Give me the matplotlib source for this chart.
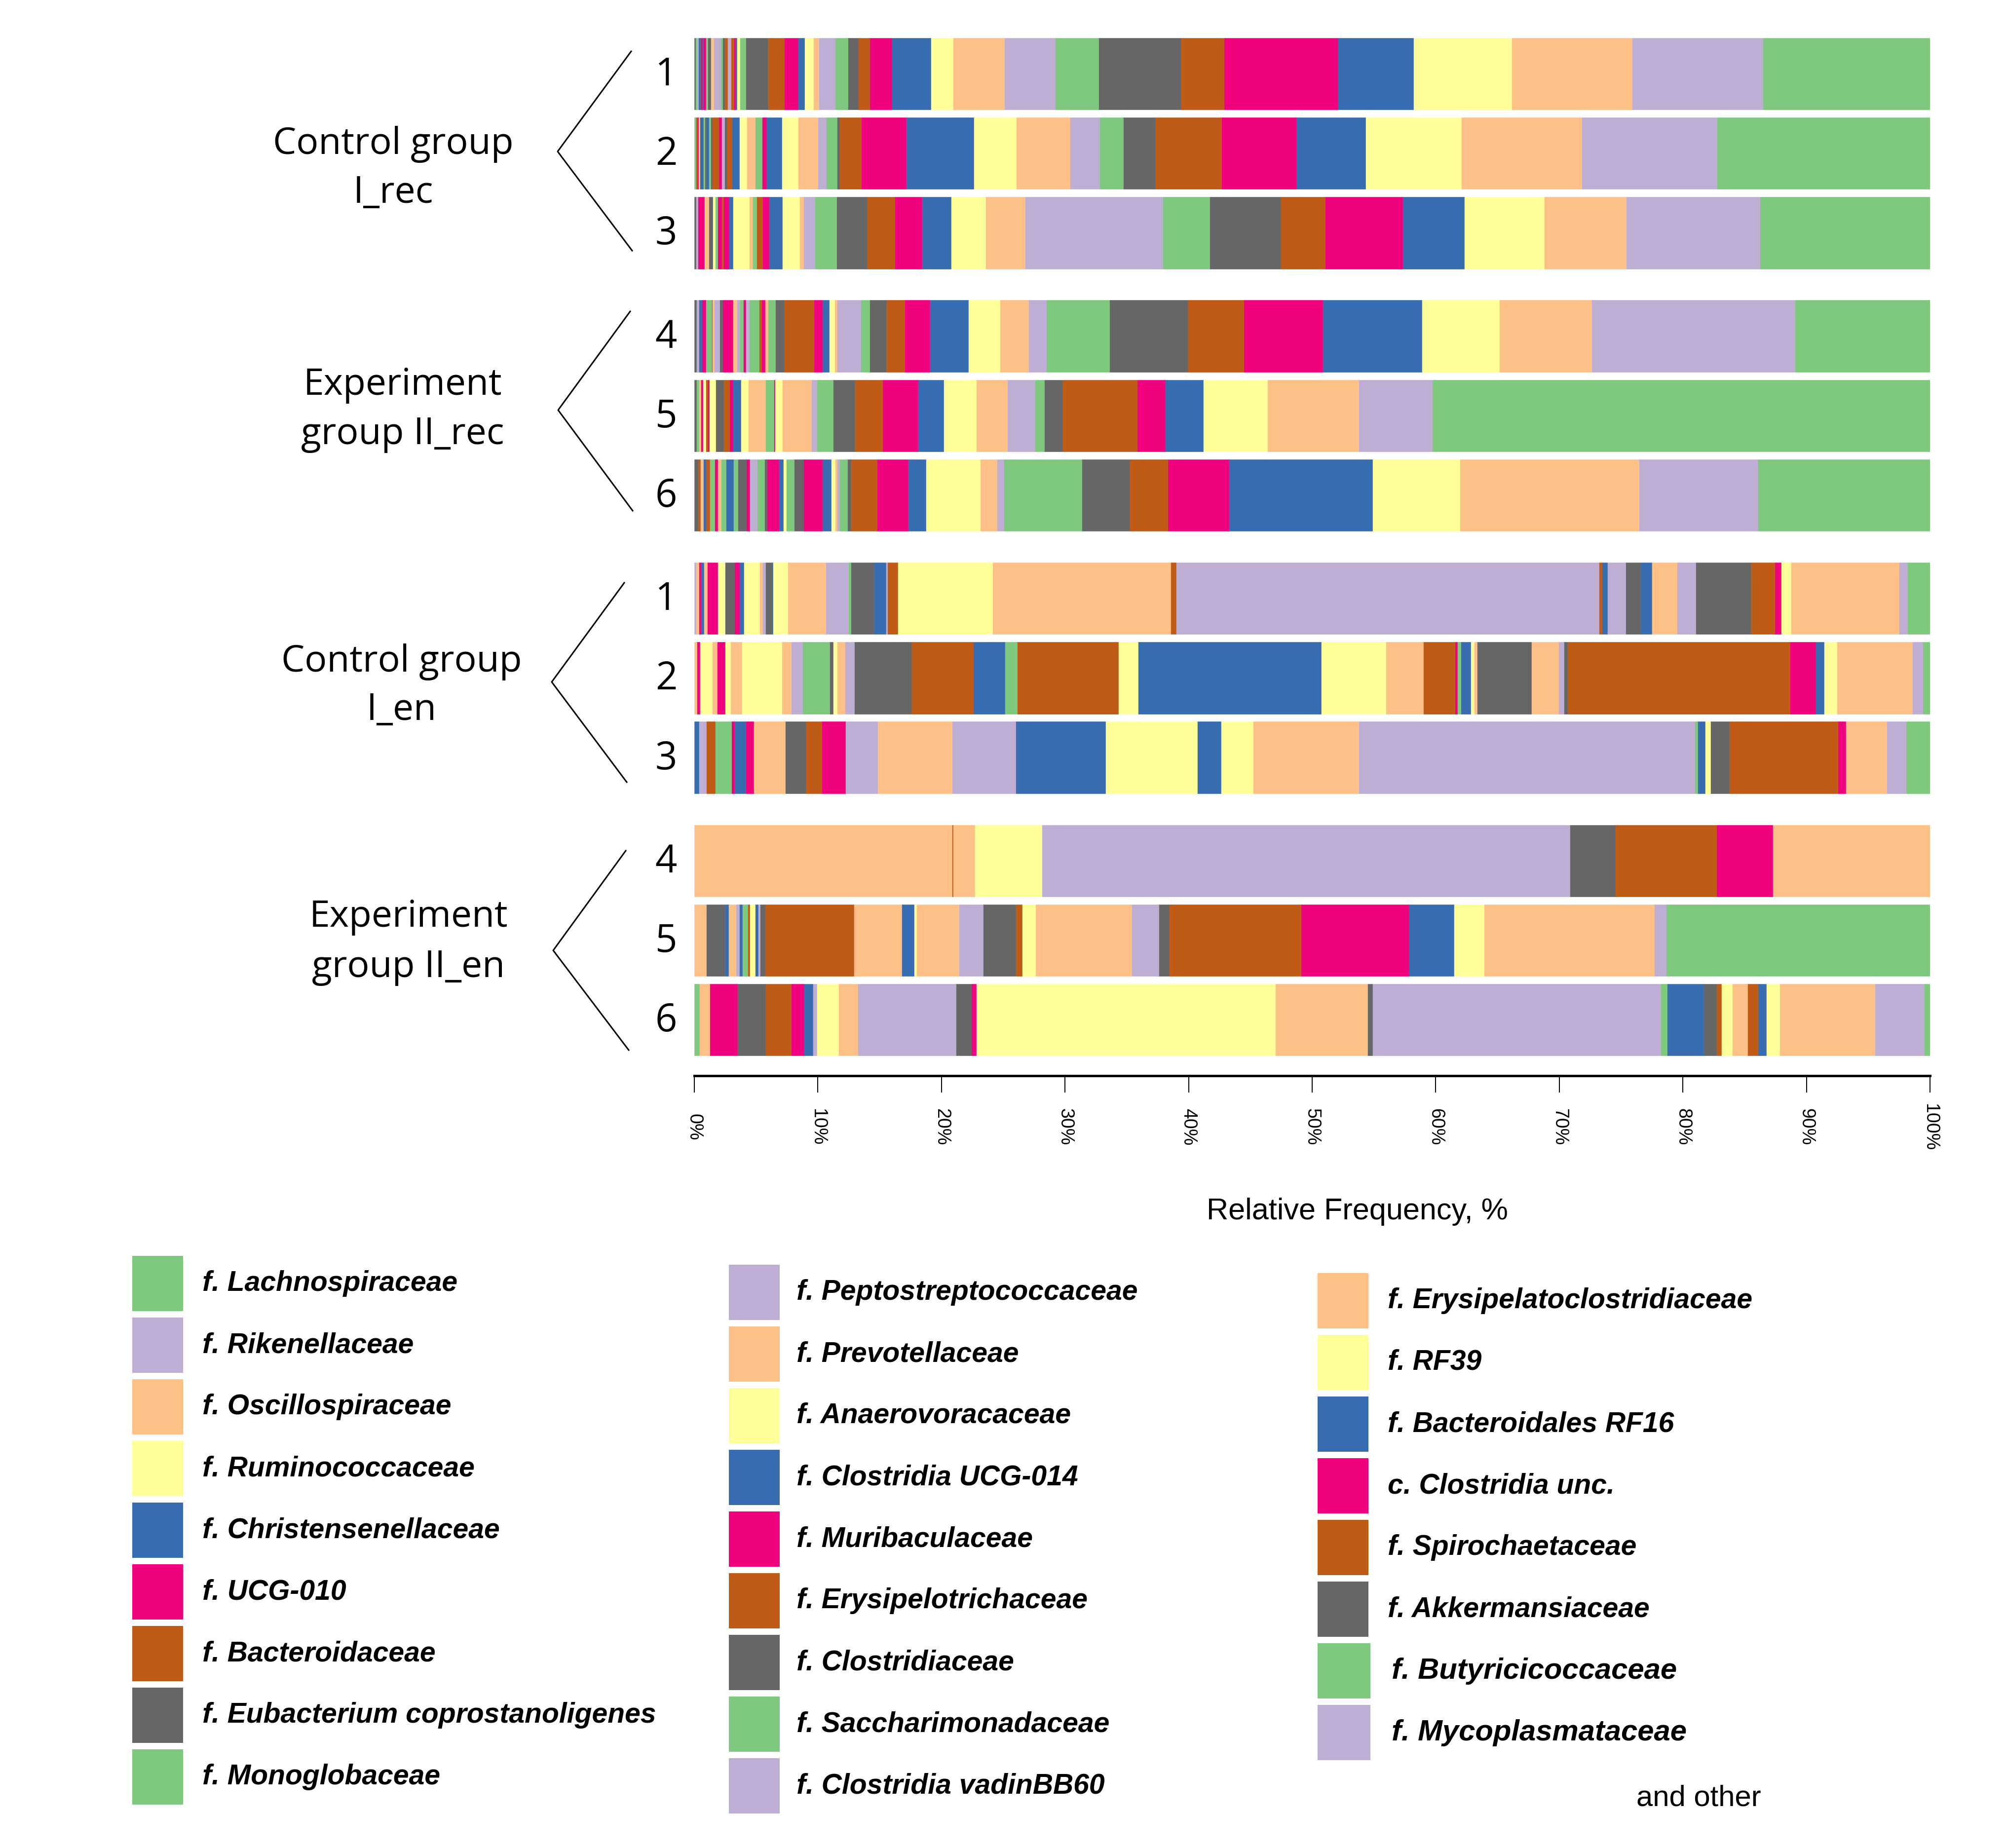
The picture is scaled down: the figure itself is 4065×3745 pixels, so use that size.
import numpy as np
import matplotlib
matplotlib.use("Agg")
import matplotlib.pyplot as plt
from matplotlib.patches import Rectangle
from matplotlib.lines import Line2D

# ---------------- data ----------------
taxa = [
    "f. Lachnospiraceae", "f. Rikenellaceae", "f. Oscillospiraceae", "f. Ruminococcaceae",
    "f. Christensenellaceae", "f. UCG-010", "f. Bacteroidaceae", "f. Eubacterium coprostanoligenes",
    "f. Monoglobaceae", "f. Peptostreptococcaceae", "f. Prevotellaceae", "f. Anaerovoracaceae",
    "f. Clostridia UCG-014", "f. Muribaculaceae", "f. Erysipelotrichaceae", "f. Clostridiaceae",
    "f. Saccharimonadaceae", "f. Clostridia vadinBB60", "f. Erysipelatoclostridiaceae", "f. RF39",
    "f. Bacteroidales RF16", "c. Clostridia unc.", "f. Spirochaetaceae", "f. Akkermansiaceae",
    "f. Butyricicoccaceae", "f. Mycoplasmataceae",
]
# relative abundance (%) per sample, keyed by taxon rank (>= 26: other taxa)
rec_I_1 = {0: 13.56, 1: 10.55, 2: 9.78, 3: 7.95, 4: 6.08, 5: 9.25, 6: 3.48, 7: 6.66, 8: 3.52,
           9: 4.11, 10: 4.15, 11: 1.79, 12: 3.17, 13: 1.80, 14: 0.91, 15: 0.82, 16: 1.05, 17: 1.32,
           18: 0.46, 19: 0.71, 20: 0.52, 21: 1.12, 22: 1.32, 23: 1.77, 24: 0.48, 27: 0.24, 28: 0.15,
           29: 0.11, 30: 0.22, 33: 0.28, 38: 0.26, 39: 0.15, 40: 0.17, 41: 0.54, 42: 0.26, 47: 0.24,
           48: 0.15, 53: 0.19, 60: 0.11, 61: 0.09, 63: 0.09, 68: 0.13, 73: 0.11, 80: 0.11, 87: 0.09}
rec_I_2 = {0: 17.25, 1: 10.95, 2: 9.77, 3: 7.74, 4: 5.60, 5: 6.04, 6: 5.38, 7: 2.57, 8: 1.93,
           9: 2.40, 10: 4.34, 11: 3.43, 12: 5.49, 13: 3.63, 14: 1.75, 15: 0.22, 16: 0.89, 17: 0.65,
           18: 1.62, 19: 1.32, 20: 1.21, 21: 0.36, 24: 0.59, 26: 0.67, 27: 0.59, 28: 0.62, 30: 0.37,
           31: 0.22, 33: 0.24, 37: 0.24, 38: 0.50, 39: 0.15, 40: 0.13, 44: 0.20, 47: 0.15, 48: 0.10,
           52: 0.28, 58: 0.12, 61: 0.10, 62: 0.10, 72: 0.12}
rec_I_3 = {0: 13.78, 1: 10.81, 2: 6.61, 3: 6.47, 4: 4.99, 5: 6.26, 6: 3.56, 7: 5.78, 8: 3.78,
           9: 11.11, 10: 3.21, 11: 2.79, 12: 2.33, 13: 2.21, 14: 2.22, 15: 2.49, 16: 1.75, 17: 0.91,
           18: 0.34, 19: 1.40, 20: 1.08, 21: 0.50, 22: 0.50, 24: 0.32, 26: 0.28, 27: 1.28, 28: 0.32,
           29: 0.45, 30: 0.17, 37: 0.32, 40: 0.19, 43: 0.19, 47: 0.32, 50: 0.39, 53: 0.26, 61: 0.26,
           65: 0.13, 71: 0.13}
rec_II_4 = {0: 10.95, 1: 16.42, 2: 7.48, 3: 6.25, 4: 8.04, 5: 6.38, 6: 4.52, 7: 6.34, 8: 5.12,
            9: 1.43, 10: 2.31, 11: 2.57, 12: 3.09, 13: 2.05, 14: 1.47, 15: 1.36, 16: 0.72, 17: 1.90,
            18: 0.21, 19: 0.44, 20: 0.58, 21: 0.65, 22: 2.42, 23: 0.71, 24: 0.60, 26: 0.22, 29: 0.28,
            30: 0.21, 32: 0.81, 33: 0.26, 37: 0.21, 40: 0.26, 41: 0.26, 42: 0.32, 45: 0.83, 47: 0.24,
            49: 0.45, 50: 0.15, 53: 0.06, 56: 0.47, 61: 0.32, 68: 0.22, 73: 0.22, 79: 0.15}
rec_II_5 = {0: 40.28, 1: 5.95, 2: 7.42, 3: 5.17, 4: 3.09, 5: 2.26, 6: 6.04, 7: 1.49, 8: 0.73,
            9: 2.27, 10: 2.51, 11: 2.61, 12: 2.07, 13: 2.90, 14: 2.22, 15: 1.75, 16: 1.32, 17: 0.46,
            18: 2.35, 19: 0.61, 21: 0.06, 24: 0.67, 26: 1.40, 27: 0.61, 28: 0.65, 29: 0.26, 30: 0.49,
            31: 0.65, 35: 0.52, 37: 0.13, 38: 0.15, 43: 0.22, 45: 0.17, 50: 0.15, 56: 0.22, 63: 0.15}
rec_II_6 = {0: 13.95, 1: 9.60, 2: 14.51, 3: 7.08, 4: 11.60, 5: 4.95, 6: 3.09, 7: 3.87, 8: 6.29,
            9: 0.58, 10: 1.36, 11: 4.39, 12: 1.42, 13: 2.53, 14: 2.10, 15: 0.28, 16: 0.64, 17: 0.20,
            18: 0.15, 19: 0.35, 20: 0.69, 21: 1.53, 23: 0.78, 24: 0.61, 27: 0.26, 28: 0.37, 29: 0.93,
            31: 0.21, 32: 0.60, 33: 0.61, 37: 0.26, 39: 0.69, 40: 0.37, 44: 0.60, 48: 0.39, 50: 0.26,
            53: 0.26, 56: 0.39, 62: 0.32, 68: 0.22, 74: 0.22, 78: 0.22, 79: 0.26}
en_I_1 = {0: 1.83, 1: 0.70, 2: 8.73, 3: 0.82, 5: 0.52, 6: 1.92, 7: 4.47, 9: 1.52, 10: 2.04,
          12: 0.91, 15: 1.18, 17: 1.47, 20: 0.44, 22: 0.26, 25: 34.23, 30: 0.43, 34: 14.42,
          35: 3.05, 43: 4.64, 46: 0.82, 49: 0.15, 52: 0.95, 55: 1.86, 56: 0.22, 57: 1.81, 58: 3.07,
          59: 1.23, 60: 0.05, 63: 0.54, 65: 0.24, 66: 0.22, 67: 1.29, 68: 0.37, 69: 0.41, 71: 0.73,
          75: 0.61, 77: 0.86, 82: 0.28, 84: 0.22, 85: 0.15, 90: 0.26, 97: 0.11}
en_I_2 = {0: 0.61, 1: 0.83, 2: 6.08, 3: 1.05, 4: 0.69, 5: 2.08, 6: 17.95, 7: 0.30, 9: 0.43,
          10: 2.18, 15: 4.38, 18: 0.26, 19: 0.26, 20: 0.83, 24: 0.26, 29: 0.22, 30: 2.52, 34: 3.04,
          35: 5.21, 36: 14.81, 43: 1.61, 46: 8.17, 48: 0.97, 52: 2.57, 54: 4.97, 55: 4.63, 57: 0.75,
          58: 0.63, 59: 0.34, 63: 0.26, 64: 2.19, 65: 0.95, 66: 0.75, 67: 3.22, 74: 0.93, 75: 0.41,
          77: 0.65, 82: 0.41, 83: 0.99, 85: 0.24, 90: 0.20}
en_I_3 = {0: 1.96, 1: 1.56, 2: 3.31, 5: 0.65, 6: 8.77, 7: 1.52, 11: 0.44, 12: 0.61, 16: 0.21,
          17: 27.20, 18: 8.55, 19: 2.61, 20: 1.91, 27: 7.45, 28: 7.26, 33: 5.16, 34: 6.01, 41: 2.59,
          45: 1.94, 46: 1.26, 47: 1.68, 50: 2.57, 53: 0.61, 60: 0.95, 61: 0.22, 64: 1.31, 70: 0.74,
          73: 0.60, 76: 0.35}
en_II_4 = {2: 12.73, 5: 4.56, 6: 8.22, 7: 3.64, 9: 42.76, 11: 5.43, 18: 1.79, 22: 0.05, 26: 20.87}
en_II_5 = {0: 21.38, 1: 0.95, 2: 13.77, 3: 2.44, 4: 3.65, 5: 8.73, 6: 10.68, 7: 0.83, 9: 2.17,
           10: 7.81, 11: 1.08, 14: 0.52, 15: 2.61, 17: 1.99, 18: 3.40, 19: 0.22, 20: 0.99, 26: 3.89,
           30: 7.19, 31: 0.39, 33: 0.17, 36: 0.24, 43: 0.41, 46: 0.19, 48: 0.43, 52: 0.22, 57: 0.30,
           58: 0.60, 60: 0.26, 63: 1.54, 66: 0.95}
en_II_6 = {0: 0.48, 1: 4.00, 2: 7.69, 3: 1.09, 4: 0.69, 6: 0.83, 10: 1.25, 11: 0.87, 14: 0.39,
           15: 1.05, 20: 2.95, 24: 0.52, 25: 23.33, 31: 0.39, 34: 7.47, 35: 12.43, 43: 11.78,
           45: 0.39, 47: 1.23, 49: 7.95, 50: 1.57, 51: 1.73, 57: 0.35, 60: 0.69, 61: 1.06, 62: 2.07,
           63: 2.27, 69: 2.25, 74: 0.84, 80: 0.39}

group_names = [("Control group", "I_rec"), ("Experiment", "group II_rec"),
               ("Control group", "I_en"), ("Experiment", "group II_en")]
sample_labels = [["1", "2", "3"], ["4", "5", "6"], ["1", "2", "3"], ["4", "5", "6"]]
group_samples = [[rec_I_1, rec_I_2, rec_I_3], [rec_II_4, rec_II_5, rec_II_6],
                 [en_I_1, en_I_2, en_I_3], [en_II_4, en_II_5, en_II_6]]
x_ticks = [0, 10, 20, 30, 40, 50, 60, 70, 80, 90, 100]
x_ticklabels = [f"{t}%" for t in x_ticks]

# ---------------- style / layout ----------------
ACCENT = ["#7FC97F", "#BEAED4", "#FDC086", "#FFFF99", "#386CB0", "#F0027F", "#BF5B17", "#666666"]
W, H = 4065, 3745
PX = 72 / 100.0  # points per pixel at dpi 100
LAB_FONT = ["Open Sans", "DejaVu Sans"]
ARIAL = ["Liberation Sans", "DejaVu Sans"]

fig = plt.figure(figsize=(W / 100, H / 100), dpi=100)
fig.patch.set_facecolor("white")


def fx(x):
    return x / W


def fy(y):
    return 1 - y / H


AX_L, AX_R, AX_T, AX_B = 1407, 3911, 70, 2180
ax = fig.add_axes([fx(AX_L), fy(AX_B), (AX_R - AX_L) / W, (AX_B - AX_T) / H])
ax.set_xlim(0, 100)
ax.set_ylim(AX_B, AX_T)

ROW0, PITCH, GROUP_STEP, BAR_H = 149.5, 161.2, 531.6, 145.5

row_centers = []
for gi, samples in enumerate(group_samples):
    for ri, data in enumerate(samples):
        yc = ROW0 + gi * GROUP_STEP + ri * PITCH
        row_centers.append(yc)
        idx = sorted(data)
        vals = np.array([data[i] for i in idx], dtype=float)
        vals = vals / vals.sum() * 100.0
        rights = 100.0 - np.concatenate([[0.0], np.cumsum(vals)[:-1]])
        lefts = rights - vals
        cols = [ACCENT[i % 8] for i in idx]
        ax.barh([yc] * len(vals), vals, left=lefts, height=BAR_H, color=cols,
                edgecolor=cols, linewidth=0.4)

for s in ["left", "right", "top"]:
    ax.spines[s].set_visible(False)
ax.spines["bottom"].set_linewidth(5 * PX)
ax.set_yticks([])
ax.set_xticks(x_ticks)
ax.set_xticklabels(x_ticklabels, rotation=-90, va="center", ha="center",
                   fontsize=27, family=ARIAL)
ax.tick_params(axis="x", length=34 * PX, width=2 * PX, pad=70 * PX, direction="out")

fig.text(fx(2750), fy(2455), "Relative Frequency, %", ha="center", va="center",
         fontsize=44, family=ARIAL)

# sample numbers
for k, yc in enumerate(row_centers):
    gi, ri = divmod(k, 3)
    fig.text(fx(1350), fy(yc + 3), sample_labels[gi][ri], ha="center", va="center",
             fontsize=56, family=LAB_FONT)

# group labels and brackets
label_pos = [(797, 292, 391), (816, 780, 881), (814, 1341, 1440), (828, 1859, 1960)]
brackets = [((1279, 104), (1130, 307), (1281, 508)),
            ((1277, 631), (1131, 831), (1282, 1035)),
            ((1265, 1181), (1118, 1382), (1270, 1585)),
            ((1268, 1724), (1121, 1926), (1274, 2128))]
for (l1, l2), (cx, y1, y2), br in zip(group_names, label_pos, brackets):
    fig.text(fx(cx), fy(y1), l1, ha="center", va="center", fontsize=54, family=LAB_FONT)
    fig.text(fx(cx), fy(y2), l2, ha="center", va="center", fontsize=54, family=LAB_FONT)
    xs = [fx(p[0]) for p in br]
    ys = [fy(p[1]) for p in br]
    fig.add_artist(Line2D(xs, ys, color="black", linewidth=3 * PX, transform=fig.transFigure))

# legend
cols_layout = [(268, 410, 2545, 0, 9), (1477, 1614, 2563, 9, 18), (2670, 2812, 2580, 18, 26)]
SQ_W, SQ_H, LPITCH = 103, 112, 125
for sx, tx, top, a, b in cols_layout:
    for j, ti in enumerate(range(a, b)):
        yt = top + j * LPITCH
        big = ti >= 24  # last two entries are drawn slightly larger in the original
        sqw = SQ_W + (4 if big else 0)
        fig.add_artist(Rectangle((fx(sx), fy(yt + SQ_H)), sqw / W, SQ_H / H,
                                 transform=fig.transFigure, facecolor=ACCENT[ti % 8],
                                 edgecolor="none"))
        fig.text(fx(tx + (8 if big else 0)), fy(yt + SQ_H / 2), taxa[ti], ha="left",
                 va="center", fontsize=43 if big else 41, fontweight="bold",
                 fontstyle="italic", family=ARIAL)
fig.text(fx(3442), fy(3644), "and other", ha="center", va="center", fontsize=43, family=ARIAL)

fig.savefig("out.png", dpi=100, facecolor="white")
